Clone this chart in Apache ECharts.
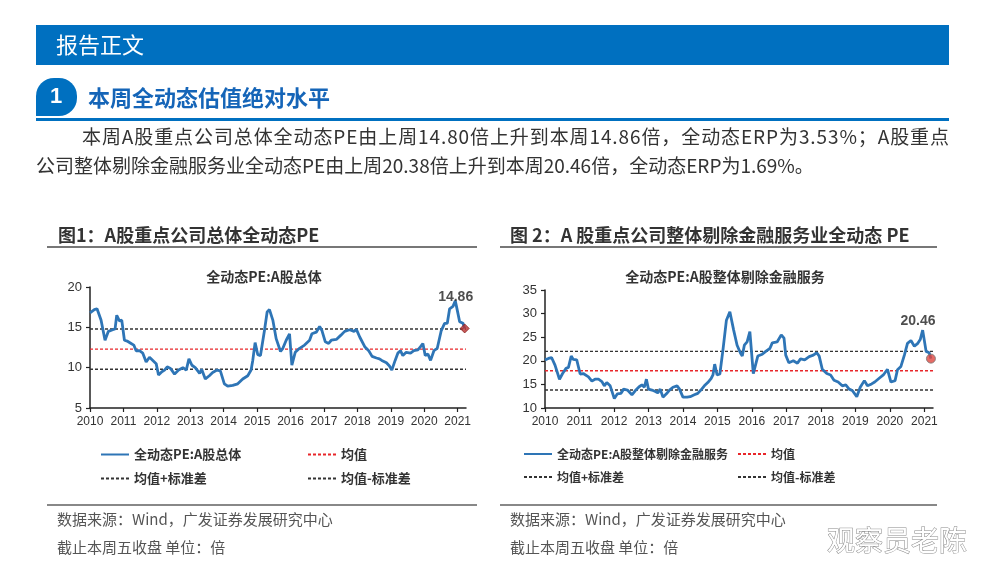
<!DOCTYPE html>
<html>
<head>
<meta charset="utf-8">
<title>本周全动态估值绝对水平</title>
<script src="https://cdn.jsdelivr.net/npm/echarts@6/dist/echarts.min.js"></script>
<style>
  html, body { margin: 0; padding: 0; background: #fff; }
  #main { width: 981px; height: 573px; }
</style>
</head>
<body>
<div id="main"></div>
<script>
// x axis: decimal years
const yearTicks = [2010, 2011, 2012, 2013, 2014, 2015, 2016, 2017, 2018, 2019, 2020, 2021];
const xMin = 2010;
const xMax = 2021.25;

// fig 1: A股总体 全动态PE
const years1 = [2010.0, 2010.13, 2010.21, 2010.33, 2010.45, 2010.55, 2010.68, 2010.75, 2010.8, 2010.88, 2010.95,
  2011.03, 2011.11, 2011.23, 2011.31, 2011.38, 2011.48, 2011.58, 2011.68, 2011.78, 2011.88, 2011.98,
  2012.05, 2012.15, 2012.23, 2012.31, 2012.41, 2012.53, 2012.65, 2012.78, 2012.88, 2012.96,
  2013.05, 2013.15, 2013.28, 2013.34, 2013.45, 2013.57, 2013.67, 2013.8, 2013.9,
  2014.02, 2014.12, 2014.27, 2014.42, 2014.57, 2014.72, 2014.82, 2014.87, 2014.94,
  2015.02, 2015.1, 2015.22, 2015.3, 2015.37, 2015.47, 2015.57, 2015.7, 2015.77, 2015.87, 2015.97,
  2016.04, 2016.14, 2016.27, 2016.42, 2016.57, 2016.64, 2016.77, 2016.87, 2016.94,
  2017.04, 2017.14, 2017.22, 2017.37, 2017.5, 2017.62, 2017.77, 2017.9, 2017.97,
  2018.07, 2018.22, 2018.34, 2018.44, 2018.57, 2018.66, 2018.73, 2018.87, 2018.96,
  2019.03, 2019.13, 2019.21, 2019.29, 2019.36, 2019.46, 2019.59, 2019.69, 2019.81, 2019.89, 2019.96,
  2020.03, 2020.11, 2020.19, 2020.29, 2020.39, 2020.51, 2020.61, 2020.69, 2020.76, 2020.86, 2020.93, 2020.99,
  2021.06, 2021.16, 2021.21];
const pe1 = [16.8, 17.2, 17.3, 15.9, 13.4, 14.5, 14.7, 14.8, 16.5, 15.8, 15.9,
  13.4, 13.3, 13.0, 12.8, 12.1, 12.1, 11.8, 10.7, 11.3, 10.9, 10.5,
  9.1, 9.5, 9.7, 10.1, 9.9, 9.2, 9.7, 10.0, 9.7, 11.1,
  10.3, 10.0, 9.3, 9.8, 8.6, 9.0, 9.4, 9.7, 9.6,
  8.0, 7.7, 7.8, 8.0, 8.6, 9.0, 9.7, 10.9, 13.1,
  11.6, 11.5, 14.6, 16.9, 17.2, 15.9, 13.6, 12.0, 12.4, 13.4, 14.2,
  10.3, 11.9, 12.4, 12.8, 13.4, 14.2, 14.4, 15.1, 14.6,
  13.2, 13.0, 13.4, 13.5, 14.0, 14.5, 14.7, 14.5, 14.75,
  13.8, 12.6, 12.1, 11.4, 11.2, 11.1, 10.9, 10.6, 10.2,
  9.7, 10.9, 11.8, 12.1, 11.5, 11.9, 11.8, 12.1, 12.2, 12.6, 13.0,
  11.5, 11.7, 10.9, 12.1, 12.4, 14.6, 15.5, 15.5, 17.3, 17.6, 18.3, 17.1,
  15.7, 15.5, 14.86];
// 均值+标准差, 均值, 均值-标准差
const levels1 = [14.8, 12.3, 9.8];

// fig 2: A股整体剔除金融服务 全动态PE
const years2 = [2010.0, 2010.1, 2010.19, 2010.29, 2010.42, 2010.51, 2010.61, 2010.68, 2010.76, 2010.82, 2010.92,
  2011.02, 2011.11, 2011.26, 2011.36, 2011.45, 2011.55, 2011.65, 2011.72, 2011.79, 2011.89,
  2012.01, 2012.1, 2012.2, 2012.28, 2012.39, 2012.52, 2012.62, 2012.73, 2012.81, 2012.88, 2012.94,
  2013.0, 2013.1, 2013.2, 2013.27, 2013.34, 2013.42, 2013.52, 2013.61, 2013.71, 2013.83, 2013.9,
  2014.0, 2014.12, 2014.21, 2014.33, 2014.43, 2014.52, 2014.62, 2014.72, 2014.82, 2014.87, 2014.92,
  2014.99, 2015.07, 2015.16, 2015.26, 2015.36, 2015.47, 2015.57, 2015.67, 2015.72, 2015.78, 2015.86, 2015.94,
  2016.04, 2016.09, 2016.17, 2016.3, 2016.42, 2016.52, 2016.59, 2016.73, 2016.85, 2016.93, 2016.98,
  2017.07, 2017.2, 2017.32, 2017.41, 2017.53, 2017.66, 2017.78, 2017.88, 2017.95,
  2018.04, 2018.17, 2018.28, 2018.38, 2018.5, 2018.62, 2018.72, 2018.82, 2018.91,
  2019.04, 2019.14, 2019.26, 2019.35, 2019.47, 2019.56, 2019.69, 2019.81, 2019.93,
  2020.03, 2020.15, 2020.22, 2020.32, 2020.42, 2020.51, 2020.61, 2020.71, 2020.81, 2020.88, 2020.95,
  2021.05, 2021.14, 2021.19];
const pe2 = [20.2, 20.5, 20.7, 19.1, 16.1, 17.3, 18.4, 18.6, 21.0, 20.3, 20.2,
  17.2, 17.3, 16.6, 15.7, 16.1, 16.1, 15.6, 14.7, 15.4, 14.7,
  12.0, 13.0, 13.1, 14.0, 13.8, 12.8, 13.7, 14.5, 14.9, 14.4, 16.1,
  14.0, 13.8, 13.5, 13.2, 14.0, 12.3, 13.0, 13.8, 14.4, 14.7, 14.0,
  12.3, 12.3, 12.4, 12.8, 13.1, 13.8, 14.7, 15.4, 16.3, 17.0, 19.3,
  17.0, 17.2, 22.3, 28.6, 30.4, 26.5, 23.3, 21.6, 21.0, 23.3, 24.0, 26.2,
  17.3, 17.4, 21.0, 21.4, 22.1, 22.6, 23.8, 24.0, 25.5, 24.8, 21.2,
  19.6, 20.0, 19.5, 20.4, 20.2, 20.9, 21.2, 21.7, 21.0,
  18.2, 17.3, 17.0, 15.9, 15.5, 14.7, 14.9, 14.0, 13.7,
  12.4, 14.4, 15.8, 14.7, 15.1, 15.5, 16.3, 17.0, 18.2,
  15.5, 15.8, 18.1, 18.8, 21.2, 23.7, 24.3, 23.1, 23.7, 24.5, 26.5,
  22.0, 21.7, 20.46];
const levels2 = [22.0, 17.9, 13.8];

const names1 = ['全动态PE:A股总体', '均值', '均值+标准差', '均值-标准差'];
const names2 = ['全动态PE:A股整体剔除金融服务', '均值', '均值+标准差', '均值-标准差'];

const CJK = '"Noto Sans CJK SC", "Noto Sans", sans-serif';
const LAT = '"Liberation Sans", Arial, sans-serif';
const BLUE = '#2e75b6';

const chart = echarts.init(document.getElementById('main'));

function pairs(xs, ys) { return xs.map((x, i) => [x, ys[i]]); }
function flat(v) { return [[xMin, v], [xMax, v]]; }

function xAxis(gridIndex) {
  return {
    type: 'value', gridIndex, min: xMin, max: xMax,
    splitLine: { show: false },
    axisLine: { lineStyle: { color: '#222', width: 1.5 } },
    axisTick: { customValues: yearTicks, length: 4, lineStyle: { color: '#222', width: 1.2 } },
    axisLabel: { customValues: yearTicks, formatter: v => String(v),
      color: '#333', fontFamily: LAT, fontSize: 12, margin: 8 }
  };
}
function yAxis(gridIndex, min, max) {
  return {
    type: 'value', gridIndex, min, max, interval: 5,
    splitLine: { show: false },
    axisLine: { show: true, lineStyle: { color: '#222', width: 1.5 } },
    axisTick: { show: true, length: 4, lineStyle: { color: '#222', width: 1.2 } },
    axisLabel: { color: '#333', fontFamily: LAT, fontSize: 13, margin: 8 }
  };
}
function mainSeries(name, idx, xs, ys) {
  return {
    name, type: 'line', xAxisIndex: idx, yAxisIndex: idx,
    data: pairs(xs, ys), symbol: 'none',
    lineStyle: { color: BLUE, width: 2.8 }, itemStyle: { color: BLUE }, z: 5
  };
}
function levelSeries(name, idx, v, color) {
  return {
    name, type: 'line', xAxisIndex: idx, yAxisIndex: idx,
    data: flat(v), symbol: 'none', silent: true,
    lineStyle: { color, width: 1.4, type: [3, 2] }, itemStyle: { color }, z: 3
  };
}
function endPoint(idx, xs, ys, symbol, color, border, offset) {
  const n = xs.length - 1;
  return {
    type: 'scatter', xAxisIndex: idx, yAxisIndex: idx,
    data: [[xs[n], ys[n]]], symbol, symbolSize: 9, z: 6,
    itemStyle: { color, borderColor: border, borderWidth: 1 },
    label: {
      show: true, position: 'top', offset,
      formatter: p => p.value[1].toFixed(2),
      color: '#222', fontFamily: LAT, fontWeight: 'bold', fontSize: 14
    }
  };
}
function legend(left, top, names, size) {
  return {
    left, top, orient: 'vertical', itemGap: 11, itemWidth: 28, itemHeight: 10,
    selectedMode: false, data: names,
    itemStyle: { opacity: 0 },
    textStyle: { fontFamily: CJK, fontWeight: 'bold', fontSize: size, color: '#333' }
  };
}

function txt(x, y, text, font, fill, align) {
  return { type: 'text', x, y, silent: true,
    style: { text, font, fill, align: align || 'left', verticalAlign: 'middle' } };
}
function bar(x, y, w, h, fill, r) {
  return { type: 'rect', silent: true, shape: { x, y, width: w, height: h, r: r || 0 }, style: { fill } };
}

// first paragraph line is justified between x0 and x1
const measureCtx = document.createElement('canvas').getContext('2d');
function justified(x0, x1, y, text, font, fill) {
  measureCtx.font = font;
  const chars = Array.from(text);
  const widths = chars.map(c => measureCtx.measureText(c).width);
  const total = widths.reduce((a, b) => a + b, 0);
  const gap = (x1 - x0 - total) / (chars.length - 1);
  let x = x0;
  return chars.map((c, i) => {
    const el = txt(x, y, c, font, fill);
    x += widths[i] + gap;
    return el;
  });
}

const bodyFont = '19px ' + CJK;
const pageGraphics = [
  bar(36, 25, 913, 40, '#0070c0'),
  txt(56, 45, '报告正文', '22px ' + CJK, '#fff'),
  bar(36, 78, 41, 38, '#0070c0', [18, 18, 18, 0]),
  txt(56, 97, '1', 'bold 22px ' + LAT, '#fff', 'center'),
  txt(88, 98, '本周全动态估值绝对水平', 'bold 22px ' + CJK, '#1565b8'),
  bar(36, 118, 913, 3, '#0070c0'),
  ...justified(82, 949, 137, '本周A股重点公司总体全动态PE由上周14.80倍上升到本周14.86倍，全动态ERP为3.53%；A股重点', bodyFont, '#333'),
  txt(36, 166, '公司整体剔除金融服务业全动态PE由上周20.38倍上升到本周20.46倍，全动态ERP为1.69%。', bodyFont, '#333'),

  txt(58, 235, '图1：A股重点公司总体全动态PE', 'bold 18px ' + CJK, '#333'),
  bar(47, 246, 430, 2, '#777'),
  txt(264, 277, '全动态PE:A股总体', 'bold 14px ' + CJK, '#333', 'center'),
  bar(47, 504, 430, 2, '#888'),
  txt(57, 519, '数据来源：Wind，广发证券发展研究中心', '15px ' + CJK, '#555'),
  txt(57, 547, '截止本周五收盘 单位：倍', '15px ' + CJK, '#555'),

  txt(510, 235, '图 2：A 股重点公司整体剔除金融服务业全动态 PE', 'bold 18px ' + CJK, '#333'),
  bar(500, 246, 437, 2, '#777'),
  txt(725, 277, '全动态PE:A股整体剔除金融服务', 'bold 14px ' + CJK, '#333', 'center'),
  bar(500, 504, 437, 2, '#888'),
  txt(510, 519, '数据来源：Wind，广发证券发展研究中心', '15px ' + CJK, '#555'),
  txt(510, 547, '截止本周五收盘 单位：倍', '15px ' + CJK, '#555'),

  { type: 'text', x: 897, y: 540, silent: true, z: 100,
    style: { text: '观察员老陈', font: '28px ' + CJK, fill: '#fff', stroke: '#8a8a8a', lineWidth: 1,
      align: 'center', verticalAlign: 'middle' } }
];

chart.setOption({
  animation: false,
  backgroundColor: '#fff',
  grid: [
    { left: 90, top: 287, width: 376, height: 121 },
    { left: 545, top: 290, width: 388, height: 118 }
  ],
  xAxis: [xAxis(0), xAxis(1)],
  yAxis: [yAxis(0, 5, 20), yAxis(1, 10, 35)],
  legend: [
    legend(95, 443, [names1[0], names1[2]], 13),
    legend(302, 443, [names1[1], names1[3]], 13),
    legend(518, 443, [names2[0], names2[2]], 12),
    legend(732, 443, [names2[1], names2[3]], 12)
  ],
  series: [
    levelSeries(names1[2], 0, levels1[0], '#333'),
    levelSeries(names1[1], 0, levels1[1], '#e8262a'),
    levelSeries(names1[3], 0, levels1[2], '#333'),
    mainSeries(names1[0], 0, years1, pe1),
    endPoint(0, years1, pe1, 'diamond', '#b8312f', '#8a1f1f', [-9, -14]),

    levelSeries(names2[2], 1, levels2[0], '#333'),
    levelSeries(names2[1], 1, levels2[1], '#e8262a'),
    levelSeries(names2[3], 1, levels2[2], '#333'),
    mainSeries(names2[0], 1, years2, pe2),
    endPoint(1, years2, pe2, 'circle', '#e0463f', '#777', [-13, -20])
  ],
  graphic: pageGraphics
});

window.addEventListener('resize', () => chart.resize());
</script>
</body>
</html>
